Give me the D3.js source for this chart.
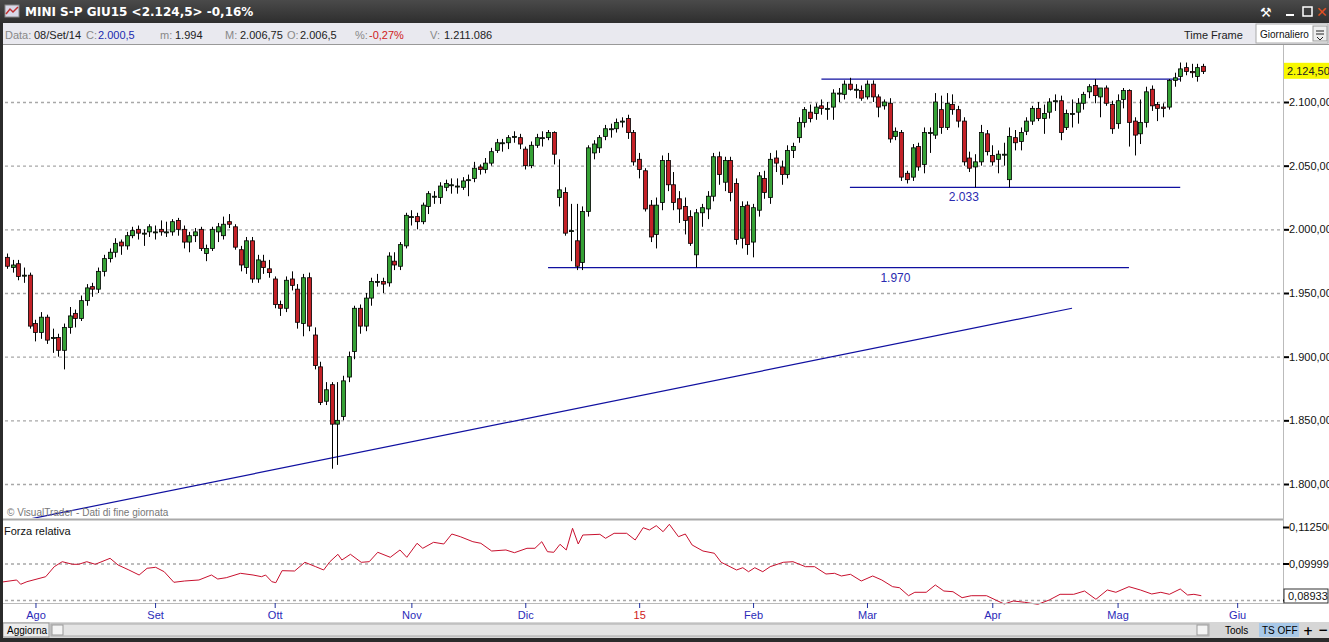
<!DOCTYPE html>
<html>
<head>
<meta charset="utf-8">
<script src="https://cdn.jsdelivr.net/npm/d3@7"></script>
<style>
  body { margin:0; background:#2b2b2b; overflow:hidden; }
  svg { display:block; font-family:"DejaVu Sans", Verdana, sans-serif; }
</style>
</head>
<body>
<svg id="chart" width="1329" height="642"></svg>
<script>
// daily candles [open, high, low, close], Jul 2014 -> May 2015
var ohlc = [
  [1978,1981,1969,1971],[1970,1976,1966,1972],[1973,1976,1960,1963],[1964,1970,1958,1964],[1964,1966,1922,1924],
  [1926,1929,1912,1919],[1919,1935,1914,1931],[1931,1933,1910,1913],[1915,1922,1903,1915],[1915,1918,1900,1905],
  [1905,1926,1890,1923],[1923,1939,1918,1932],[1934,1937,1923,1930],[1930,1948,1928,1944],[1944,1957,1940,1954],
  [1955,1958,1947,1953],[1953,1970,1950,1967],[1967,1980,1963,1977],[1977,1985,1974,1982],[1982,1993,1978,1989],
  [1990,1992,1980,1987],[1987,1998,1984,1995],[1995,2002,1993,1999],[2000,2003,1992,1997],[1997,2000,1987,1997],
  [1998,2004,1994,2002],[1998,2003,1992,1998],[2000,2007,1995,1998],[1998,2006,1994,1998],[1998,2008,1995,2006],
  [2007,2009,1995,2000],[2000,2003,1985,1990],[1990,1998,1982,1995],[1995,2001,1990,1998],[2000,2002,1983,1985],
  [1981,1988,1975,1985],[1985,2002,1983,2000],[1998,2005,1990,2002],[1995,2010,1992,2004],[2006,2012,2001,2004],
  [2002,2004,1984,1986],[1984,1987,1967,1972],[1970,1994,1965,1991],[1991,1994,1958,1961],[1961,1980,1958,1976],
  [1975,1980,1965,1970],[1969,1976,1962,1966],[1961,1963,1938,1941],[1941,1944,1932,1938],[1938,1963,1935,1960],
  [1961,1967,1952,1956],[1953,1957,1922,1927],[1926,1965,1916,1962],[1962,1966,1920,1924],[1917,1923,1890,1893],
  [1892,1896,1862,1864],[1865,1880,1862,1874],[1878,1880,1812,1847],[1847,1880,1815,1850],
  [1853,1885,1850,1881],[1884,1904,1880,1900],[1904,1940,1898,1938],[1938,1941,1918,1924],[1924,1950,1920,1946],
  [1946,1962,1940,1959],[1959,1965,1955,1959],[1959,1962,1950,1957],[1958,1982,1955,1979],[1975,1982,1968,1972],
  [1971,1990,1968,1988],[1987,2013,1985,2011],[2010,2015,2003,2010],[2010,2013,2000,2006],[2006,2021,2004,2019],
  [2018,2030,2012,2028],[2026,2030,2020,2026],[2025,2037,2020,2034],[2033,2039,2030,2036],[2035,2040,2028,2035],
  [2034,2040,2028,2034],[2033,2041,2031,2038],[2039,2043,2026,2039],[2040,2053,2037,2048],[2049,2051,2043,2047],
  [2047,2056,2044,2052],[2052,2064,2050,2061],[2062,2071,2060,2068],[2068,2071,2061,2068],[2068,2074,2063,2072],
  [2073,2077,2068,2073],[2072,2075,2063,2067],[2063,2065,2047,2050],[2050,2069,2048,2066],[2066,2075,2064,2072],
  [2072,2077,2065,2072],[2072,2078,2070,2076],[2076,2077,2051,2059],[2025,2055,2018,2031],[2029,2033,1995,1997],
  [1999,2020,1975,1999],[1991,2020,1968,1971],[1974,2018,1968,2014],[2014,2066,2010,2064],[2060,2070,2055,2067],
  [2064,2074,2060,2072],[2073,2082,2070,2079],[2079,2083,2072,2079],[2079,2087,2076,2084],[2085,2088,2080,2085],
  [2087,2090,2071,2076],[2076,2078,2050,2053],[2055,2060,2040,2047],[2046,2048,2014,2016],
  [2019,2023,1990,1994],[1996,2025,1985,2019],[2021,2058,2015,2054],[2054,2060,2030,2035],[2035,2045,2015,2021],
  [2024,2030,2005,2016],[2018,2025,1996,2007],[2010,2015,1987,1989],[1980,2016,1970,2013],[2013,2020,2002,2017],
  [2016,2030,2008,2026],[2026,2060,2022,2057],[2057,2061,2035,2043],[2037,2057,2030,2054],[2054,2057,2022,2029],
  [2036,2040,1988,1992],[1993,2022,1985,2018],[2019,2022,1980,1988],[1990,2020,1978,2017],[2015,2045,2010,2042],
  [2040,2046,2024,2029],[2025,2060,2020,2055],[2056,2062,2045,2052],[2049,2054,2035,2043],[2043,2066,2040,2062],
  [2062,2068,2056,2065],[2072,2088,2068,2084],[2084,2096,2080,2094],[2092,2098,2084,2087],[2091,2099,2086,2096],
  [2097,2102,2090,2095],[2095,2100,2086,2095],[2096,2110,2086,2107],[2107,2111,2100,2107],[2106,2117,2102,2114],
  [2114,2119,2109,2110],[2110,2114,2103,2110],[2109,2113,2101,2103],[2104,2117,2102,2114],[2114,2117,2100,2104],
  [2104,2106,2088,2096],[2097,2102,2094,2100],[2099,2103,2068,2071],[2073,2080,2070,2077],[2076,2078,2038,2041],
  [2044,2046,2036,2039],[2041,2067,2038,2064],[2065,2068,2046,2049],[2051,2080,2044,2076],[2076,2080,2060,2076],
  [2074,2107,2071,2100],[2094,2105,2075,2080],[2080,2107,2078,2099],[2098,2106,2090,2094],[2094,2097,2080,2085],
  [2085,2088,2050,2053],[2056,2061,2045,2048],[2049,2059,2033,2053],[2053,2082,2050,2076],[2075,2078,2058,2061],
  [2058,2066,2050,2053],[2055,2062,2044,2059],[2059,2068,2050,2059],[2039,2080,2033,2073],[2072,2078,2062,2068],
  [2069,2080,2062,2076],[2077,2088,2074,2085],[2085,2097,2082,2095],[2095,2100,2085,2087],[2087,2098,2075,2091],
  [2092,2103,2087,2100],[2101,2106,2093,2101],[2101,2105,2070,2076],[2080,2094,2078,2091],[2091,2102,2080,2091],
  [2092,2103,2083,2099],[2099,2108,2094,2106],[2108,2114,2103,2112],[2113,2118,2099,2105],[2104,2111,2088,2111],
  [2111,2113,2097,2099],[2098,2101,2075,2079],[2083,2106,2079,2101],[2102,2111,2095,2109],[2109,2110,2065,2084],
  [2085,2088,2058,2074],[2075,2102,2067,2084],[2084,2112,2080,2108],[2110,2113,2093,2097],[2098,2100,2085,2095],
  [2096,2099,2088,2095],[2096,2118,2094,2117],[2117,2123,2112,2119],[2120,2131,2116,2126],[2127,2131,2121,2124],
  [2124,2130,2119,2123],[2120,2130,2116,2127],[2128,2130,2122,2124]
]
// relative strength: day index and value
var rsDay = [-1.2,1.7,2.4,3.5,6.8,8.3,9.7,11.5,12.6,14,15.5,18.1,19.5,21.4,23.2,24.6,26.1,27.6,29.3,31.2,33.7,35.9,37,38.5,41,43.2,44.7,45.4,46.5,47.2,48.3,50.5,52.3,54.2,55.6,56.7,58.1,58.8,60.3,62.2,63.6,65.1,67.3,69,70.2,72,73,74.9,76.7,78.1,79.6,81.8,83.2,85.1,87.6,89.1,91.3,92.7,93.9,94.9,96,97.1,98.2,99.3,100.3,101.1,104.1,105.1,106.6,108.8,110.3,111.7,112.8,114,115.2,116.3,117.9,119.1,120.3,122.2,124.2,125.4,128.1,129.2,130.2,131.3,132.7,134,136.3,138,140.2,141.8,143.8,145.3,146.5,148.1,150,152,153.6,155.5,156.7,158.3,159.4,161.4,163,164.5,166.1,167.7,169.3,172,173.6,175.1,176.7,178.7,181,183,184.9,187.3,189.2,191.2,193.2,194.7,197,199,201,202.6,204.1,206,207.3,208.4,209.7]
var rsValue = [.09356,.09435,.09288,.09377,.09548,.09891,.10062,.09973,.09973,.10062,.09973,.10178,.09949,.09778,.09606,.09836,.0987,.09719,.09356,.09401,.09435,.09606,.09469,.09514,.09664,.09606,.09548,.09606,.09377,.09343,.09754,.09743,.10041,.09891,.09778,.10062,.10315,.1012,.10315,.10041,.10062,.10384,.10212,.10463,.10212,.10692,.10521,.10726,.10668,.1101,.10918,.10747,.10692,.10428,.10463,.1037,.10521,.10521,.10747,.10404,.10384,.10658,.10463,.11206,.10668,.10976,.11,.10863,.11034,.11034,.10805,.11226,.11148,.11295,.11089,.11343,.10918,.1101,.10634,.10428,.1035,.10041,.09778,.09856,.09719,.09856,.09719,.09891,.10041,.10062,.09891,.09891,.0964,.09664,.09572,.0963,.09401,.09572,.09435,.09206,.09171,.08897,.09014,.09014,.09264,.09058,.09034,.08829,.08897,.08897,.0875,.08613,.08716,.08671,.08603,.0875,.08945,.08945,.09058,.08774,.09093,.09014,.09206,.09093,.08956,.09014,.08945,.09127,.08921,.08945,.08897]
var monthLabels = ["Ago","Set","Ott","Nov","Dic","15","Feb","Mar","Apr","Mag","Giu"]
var monthDay = [5,26,47,71,91,111,131,151,173,195,216]
var priceTicks = [1800,1850,1900,1950,2000,2050,2100]
var rsTicks = [0.1125,0.1,0.0875]
var rsTickText = ["0,112500","0,099999",""]
// drawn study lines: [day1, price1, day2, price2]
var studyLines = [[4,1772.5,187,1938],[143,2118,206,2118],[148,2033,206,2033],[95,1970,197,1970]]
var studyLabels = [["2.033",168,2033],["1.970",156,1970]]
var lastPrice = "2.124,50", lastRs = "0,08933"

var svg = d3.select("#chart")
var W = 1329
var green = "#35a135", red = "#c42127"
var tahoma = "Liberation Sans"

// frame
svg.append("rect").attr("width",W).attr("height",642).attr("fill","#2b2b2b")
var tg = svg.append("defs").append("linearGradient").attr("id","tb").attr("x1",0).attr("x2",0).attr("y1",0).attr("y2",1)
tg.append("stop").attr("offset","0").attr("stop-color","#4a4a4a")
tg.append("stop").attr("offset","1").attr("stop-color","#2e2e2e")
svg.append("rect").attr("width",W).attr("height",23).attr("fill","url(#tb)")
svg.append("rect").attr("x",5).attr("y",5).attr("width",14).attr("height",12).attr("fill","#d8d8e8").attr("stroke","#888")
svg.append("path").attr("d","M6,14 L10,9 L13,12 L18,7").attr("stroke","#c03030").attr("fill","none").attr("stroke-width",1.5)
svg.append("text").attr("x",25).attr("y",16).attr("fill","#fff").style("font-size","12px").style("font-weight","bold")
  .text("MINI S-P GIU15 <2.124,5> -0,16%")
svg.append("text").attr("x",1260).attr("y",17).attr("fill","#fff").style("font-size","13px").text("⚒")
svg.append("rect").attr("x",1286).attr("y",14).attr("width",8).attr("height",2).attr("fill","#fff")
svg.append("rect").attr("x",1303).attr("y",7).attr("width",9).attr("height",9).attr("fill","none").attr("stroke","#fff").attr("stroke-width",1.5)
svg.append("text").attr("x",1316).attr("y",17).attr("fill","#e05020").style("font-size","14px").style("font-weight","bold").text("✕")

// info bar
svg.append("rect").attr("x",3).attr("y",23).attr("width",W-3).attr("height",21).attr("fill","#e9e9ef")
svg.append("rect").attr("x",1256).attr("y",24).attr("width",72).attr("height",19).attr("fill","#fff").attr("stroke","#aaa")
svg.append("text").attr("x",1260).attr("y",38).attr("fill","#111").style("font-size","10px").style("font-family",tahoma).text("Giornaliero")
svg.append("rect").attr("x",1313).attr("y",26).attr("width",14).attr("height",15).attr("fill","#eee").attr("stroke","#999")
svg.append("path").attr("d","M1316,31 H1324 M1316,34 H1324 M1317,37 L1320,40 L1323,37").attr("stroke","#222").attr("fill","none")
svg.append("text").attr("x",1184).attr("y",39).attr("fill","#222").style("font-size","11px").style("font-family",tahoma).text("Time Frame")
var infoParts = [
  [5,"Data:","#888"],[34,"08/Set/14","#222"],[86,"C:","#888"],[98,"2.000,5","#1a2ab0"],
  [160,"m:","#888"],[175,"1.994","#222"],[225,"M:","#888"],[240,"2.006,75","#222"],
  [287,"O:","#888"],[300,"2.006,5","#222"],[355,"%:","#888"],[369,"-0,27%","#d02020"],
  [430,"V:","#888"],[444,"1.211.086","#222"]]
svg.append("g").selectAll("text").data(infoParts).join("text")
  .attr("x",function(d){return d[0]}).attr("y",39).attr("fill",function(d){return d[2]})
  .style("font-size","11px").style("font-family",tahoma).text(function(d){return d[1]})

// chart background
svg.append("rect").attr("x",3).attr("y",44).attr("width",W-3).attr("height",578).attr("fill","#fff")
svg.append("line").attr("x1",3).attr("x2",W).attr("y1",44.5).attr("y2",44.5).attr("stroke","#999")

var x = d3.scaleLinear().domain([0, ohlc.length-1]).range([7, 1203])
var y = d3.scaleLinear().domain([1800, 2100]).range([484, 102])
var yr = d3.scaleLinear().domain([0.0875, 0.1125]).range([600, 527])
var axisX = 1283

// grid
svg.append("g").selectAll("line").data(priceTicks).join("line")
  .attr("x1",5).attr("x2",axisX).attr("y1",function(d){return y(d)+0.5}).attr("y2",function(d){return y(d)+0.5})
  .attr("stroke","#a8a8a8").attr("stroke-width",1.3).attr("stroke-dasharray","3,3")
svg.append("g").selectAll("line").data(rsTicks.slice(1)).join("line")
  .attr("x1",5).attr("x2",axisX).attr("y1",function(d){return yr(d)+0.5}).attr("y2",function(d){return yr(d)+0.5})
  .attr("stroke","#a8a8a8").attr("stroke-width",1.3).attr("stroke-dasharray","3,3")

// price axis
var fmt = function(v){ return d3.format(",.2f")(v).replace(/,/g,"#").replace(".",",").replace(/#/g,".") }
var pa = svg.append("g").attr("transform","translate("+axisX+",0)")
  .call(d3.axisRight(y).tickValues(priceTicks).tickSize(4).tickFormat(fmt))
pa.select(".domain").remove()
pa.selectAll(".tick line").attr("x1",0).attr("x2",6).attr("stroke","#000").attr("stroke-width",2)
pa.selectAll(".tick text").attr("x",6).style("font-size","11px").style("font-family",tahoma).attr("fill","#111")
svg.append("line").attr("x1",axisX+0.5).attr("x2",axisX+0.5).attr("y1",45).attr("y2",604).attr("stroke","#bbb")

var ra = svg.append("g").attr("transform","translate("+axisX+",0)")
  .call(d3.axisRight(yr).tickValues(rsTicks).tickFormat(function(d,i){return rsTickText[i]}))
ra.select(".domain").remove()
ra.selectAll(".tick line").attr("x1",0).attr("x2",6).attr("stroke","#000").attr("stroke-width",2)
ra.selectAll(".tick text").attr("x",6).style("font-size","11px").style("font-family",tahoma).attr("fill","#111")

// panel separator
svg.append("line").attr("x1",3).attr("x2",axisX).attr("y1",519.5).attr("y2",519.5).attr("stroke","#aaa").attr("stroke-width",2)

// study lines (clipped to price panel)
svg.append("clipPath").attr("id","pc").append("rect").attr("x",3).attr("y",45).attr("width",axisX-3).attr("height",473)
var study = svg.append("g").attr("clip-path","url(#pc)")
study.selectAll("line").data(studyLines).join("line")
  .attr("x1",function(d){return x(d[0])}).attr("y1",function(d){return y(d[1])})
  .attr("x2",function(d){return x(d[2])}).attr("y2",function(d){return y(d[3])})
  .attr("stroke","#1010a0").attr("stroke-width",1.2)
study.selectAll("text").data(studyLabels).join("text")
  .attr("x",function(d){return x(d[1])}).attr("y",function(d){return y(d[2])+14})
  .attr("text-anchor","middle").attr("fill","#2a2ab0").style("font-size","12px").style("font-family",tahoma)
  .text(function(d){return d[0]})

// candles
var cw = 4
var cg = svg.append("g").selectAll("g").data(ohlc).join("g")
cg.append("line").attr("x1",function(d,i){return Math.round(x(i))+0.5}).attr("x2",function(d,i){return Math.round(x(i))+0.5})
  .attr("y1",function(d){return y(d[1])}).attr("y2",function(d){return y(d[2])}).attr("stroke","#000")
cg.append("rect").attr("x",function(d,i){return Math.round(x(i))-cw/2+0.5})
  .attr("y",function(d){return y(Math.max(d[0],d[3]))})
  .attr("width",cw).attr("height",function(d){return Math.max(1,Math.abs(y(d[0])-y(d[3])))})
  .attr("fill",function(d){return d[3]>=d[0]?green:red}).attr("stroke","#000").attr("stroke-width",0.8)

// last price box
svg.append("rect").attr("x",axisX+1).attr("y",y(2124.5)-8).attr("width",W-axisX).attr("height",16).attr("fill","#f8f800")
svg.append("text").attr("x",axisX+4).attr("y",y(2124.5)+4).style("font-size","11px").style("font-family",tahoma).attr("fill","#222").text(lastPrice)

// watermark
svg.append("text").attr("x",7).attr("y",516).attr("fill","#777").style("font-size","10px").style("font-family",tahoma)
  .text("© VisualTrader - Dati di fine giornata")
svg.append("text").attr("x",4).attr("y",535).attr("fill","#111").style("font-size","11px").style("font-family",tahoma)
  .text("Forza relativa")

// relative strength line
svg.append("path").datum(rsDay.map(function(d,i){return [d, rsValue[i]]}))
  .attr("d", d3.line().x(function(d){return x(d[0])}).y(function(d){return yr(d[1])}))
  .attr("fill","none").attr("stroke","#c8102e").attr("stroke-width",1)
svg.append("rect").attr("x",axisX+1).attr("y",589).attr("width",W-axisX-2).attr("height",14).attr("fill","#fff").attr("stroke","#333")
svg.append("text").attr("x",axisX+5).attr("y",600).style("font-size","11px").style("font-family",tahoma).attr("fill","#111").text(lastRs)

// time axis
svg.append("line").attr("x1",3).attr("x2",axisX).attr("y1",603.5).attr("y2",603.5).attr("stroke","#bbb")
var ta = svg.append("g").attr("transform","translate(0,603)")
  .call(d3.axisBottom(x).tickValues(monthDay).tickSize(5).tickFormat(function(d,i){return monthLabels[i]}))
ta.select(".domain").remove()
ta.selectAll(".tick line").attr("stroke","#2030a0")
ta.selectAll(".tick text").attr("y",8).style("font-size","11px").style("font-family",tahoma)
  .attr("fill",function(d,i){return monthLabels[i]==="15"?"#d02020":"#2a2ab8"})

// bottom bar
svg.append("rect").attr("x",3).attr("y",622).attr("width",W-3).attr("height",16).attr("fill","#d6d6d6")
svg.append("rect").attr("x",3).attr("y",623).attr("width",46).attr("height",14).attr("fill","#ececec").attr("stroke","#999")
svg.append("text").attr("x",7).attr("y",634).style("font-size","10px").style("font-family",tahoma).text("Aggiorna")
svg.append("rect").attr("x",51).attr("y",624).attr("width",1158).attr("height",12).attr("fill","#e4e4e4").attr("stroke","#aaa")
svg.append("rect").attr("x",52).attr("y",625).attr("width",11).attr("height",10).attr("fill","#f4f4f4").attr("stroke","#999")
svg.append("rect").attr("x",1197).attr("y",625).attr("width",11).attr("height",10).attr("fill","#f4f4f4").attr("stroke","#999")
svg.append("text").attr("x",1225).attr("y",634).style("font-size","10px").style("font-family",tahoma).text("Tools")
svg.append("rect").attr("x",1259).attr("y",623).attr("width",40).attr("height",14).attr("fill","#a8c8e8")
svg.append("text").attr("x",1262).attr("y",634).style("font-size","10px").style("font-family",tahoma).text("TS OFF")
svg.append("text").attr("x",1303).attr("y",635).style("font-size","12px").style("font-weight","bold").text("+")
svg.append("text").attr("x",1318).attr("y",634).style("font-size","12px").style("font-weight","bold").text("−")
svg.append("rect").attr("x",0).attr("y",23).attr("width",3).attr("height",619).attr("fill","#2b2b2b")
</script>
</body>
</html>
